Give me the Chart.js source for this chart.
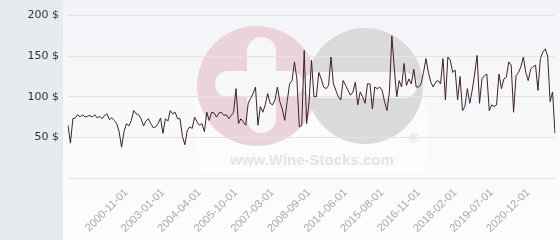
<!DOCTYPE html>
<html lang="en">
<head>
<meta charset="UTF-8">
<title>Wine price history</title>
<script src="https://cdn.jsdelivr.net/npm/chart.js"></script>
<style>
  html, body { margin: 0; padding: 0; background: #fff; }
  #wrap { width: 560px; height: 240px; }
</style>
</head>
<body>
<div id="wrap"><canvas id="priceChart" width="560" height="240"></canvas></div>
<script>
// Price per bottle, one value per sale date
const prices = [
  65, 43, 73, 74, 78, 75, 78, 75, 76, 77,
  75, 78, 74, 76, 73, 77, 79, 72, 74, 71,
  67, 57, 38, 57, 67, 64, 71, 83, 79, 78,
  73, 64, 70, 73, 67, 62, 63, 67, 74, 55,
  73, 70, 83, 79, 81, 73, 73, 51, 41, 59,
  63, 61, 75, 69, 65, 67, 57, 81, 71, 81,
  80, 75, 80, 81, 77, 78, 73, 77, 81,
  110, 67, 73, 69, 65, 92, 98, 104, 112, 65,
  88, 81, 90, 104, 92, 90, 96, 112, 94, 85,
  71, 94, 116, 120, 143, 122, 63, 65, 157,
  67, 94, 145, 100, 100, 130, 122, 112, 110, 114,
  149, 116, 108, 100, 96, 120, 114, 108, 102, 106,
  118, 90, 106, 100, 92, 116, 116, 85, 112, 110,
  112, 108, 94, 83, 106, 175,
  135, 100, 120, 112, 141, 114, 122, 116, 134, 112,
  112, 116, 130, 147, 130, 118, 112, 118, 120, 116,
  147, 96, 149, 145, 130, 133, 96, 125, 83, 88,
  110, 92, 108, 128, 151,
  92, 122, 126, 128, 83, 90, 88, 90, 128, 110,
  122, 124, 143, 139, 81, 126, 130, 137, 149, 130,
  120, 134, 137, 139, 108, 147, 155, 159,
  150, 94, 106, 55
];

// Dates shown under the axis
const tickLabels = [
  '2000-11-01', '2003-01-01', '2004-04-01', '2005-10-01', '2007-03-01', '2008-09-01',
  '2014-06-01', '2015-08-01', '2016-11-01', '2018-02-01', '2019-07-01', '2020-12-01'
];
const firstTick = 24;   // index of the first labelled sale
const tickStep = 15;    // one label every 15 sales
const yTicks = [0, 50, 100, 150, 200];

// category labels: only the shown dates, the rest stay blank
const labels = prices.map((_, i) => {
  const k = (i - firstTick) / tickStep;
  return Number.isInteger(k) && k >= 0 && k < tickLabels.length ? tickLabels[k] : '';
});

// rounded bar, ends fully rounded
function pill(ctx, x, y, w, h) {
  const r = Math.min(w, h) / 2;
  ctx.beginPath();
  ctx.moveTo(x + r, y);
  ctx.arcTo(x + w, y, x + w, y + h, r);
  ctx.arcTo(x + w, y + h, x, y + h, r);
  ctx.arcTo(x, y + h, x, y, r);
  ctx.arcTo(x, y, x + w, y, r);
  ctx.closePath();
  ctx.fill();
}

// panel colours + the faded logo behind the line
const backdrop = {
  id: 'backdrop',
  beforeDraw(chart) {
    const { ctx, width, height } = chart;
    ctx.save();
    ctx.fillStyle = '#e8ebee';
    ctx.fillRect(0, 0, width, height);
    const g = ctx.createLinearGradient(0, 0, 0, height);
    g.addColorStop(0, '#f3f4f7');
    g.addColorStop(1, '#fdfdfe');
    ctx.fillStyle = g;
    ctx.fillRect(63, 0, width - 63, height);

    ctx.fillStyle = 'rgba(255,255,255,0.45)';
    ctx.fillRect(195, 100, 233, 73);

    ctx.fillStyle = '#ebd4d9';
    ctx.beginPath(); ctx.arc(257, 86, 60, 0, Math.PI * 2); ctx.fill();
    ctx.fillStyle = '#f7f7f9';
    pill(ctx, 247, 37, 29, 96);
    pill(ctx, 215, 71, 88, 26);

    ctx.fillStyle = '#dadada';
    ctx.beginPath(); ctx.arc(365, 86, 58, 0, Math.PI * 2); ctx.fill();
    ctx.fillStyle = '#f7f7f9';
    pill(ctx, 303, 72, 114, 26);

    ctx.fillStyle = '#dcdcdc';
    ctx.textAlign = 'center';
    ctx.textBaseline = 'middle';
    ctx.font = '13px "Liberation Sans"';
    ctx.fillText('®', 414, 139);
    ctx.fillStyle = '#e3e3e4';
    ctx.font = 'bold 15px "Liberation Sans"';
    ctx.fillText('www.Wine-Stocks.com', 312, 161);
    ctx.restore();
  }
};

new Chart(document.getElementById('priceChart'), {
  type: 'line',
  data: {
    labels: labels,
    datasets: [{
      data: prices,
      borderColor: '#3d2030',
      borderWidth: 1,
      pointRadius: 0,
      tension: 0,
      fill: false
    }]
  },
  options: {
    responsive: false,
    animation: false,
    devicePixelRatio: 1,
    layout: { padding: { top: 15, right: 5, bottom: 0, left: 0 } },
    plugins: { legend: { display: false }, tooltip: { enabled: false } },
    scales: {
      x: {
        grid: { display: false },
        border: { display: false },
        ticks: {
          autoSkip: false,
          minRotation: 45,
          maxRotation: 45,
          padding: 0,
          color: '#a8a8a8',
          font: { family: 'Liberation Sans', size: 11 }
        },
        afterFit: s => { s.height = 62; s.paddingLeft = 0; s.paddingRight = 0; }
      },
      y: {
        min: 0,
        max: 200,
        afterBuildTicks: s => { s.ticks = yTicks.map(v => ({ value: v })); },
        grid: { color: '#e3e3e7', drawTicks: false },
        border: { display: false },
        ticks: {
          padding: 9,
          color: '#333',
          font: { family: 'DejaVu Sans', size: 11 },
          callback: v => (v === 0 ? '' : v + ' $')
        },
        afterFit: s => { s.width = 68; }
      }
    }
  },
  plugins: [backdrop]
});
</script>
</body>
</html>
